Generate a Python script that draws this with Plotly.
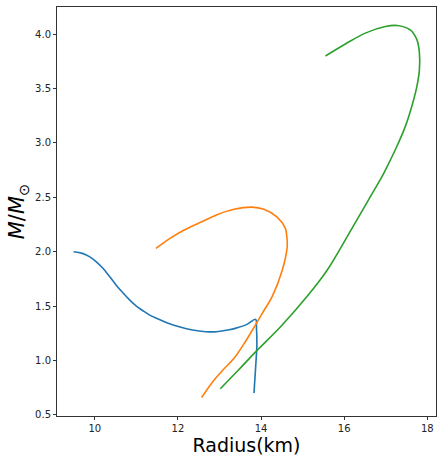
import plotly.graph_objects as go

# Mass-radius curves (radius in km, mass in solar masses)
blue_r = [9.49, 9.70, 9.87, 10.03, 10.19, 10.35, 10.51, 10.67, 10.83, 11.00, 11.15, 11.31, 11.47, 11.75,
          12.03, 12.35, 12.67, 12.93, 13.20, 13.42, 13.65, 13.87, 13.89, 13.90, 13.88, 13.86, 13.84, 13.83]
blue_m = [2.00, 1.985, 1.955, 1.91, 1.85, 1.775, 1.695, 1.625, 1.56, 1.50, 1.46, 1.42, 1.39, 1.345,
          1.31, 1.28, 1.265, 1.265, 1.28, 1.30, 1.33, 1.378, 1.30, 1.15, 1.00, 0.88, 0.76, 0.70]

orange_r = [12.57, 12.87, 13.10, 13.35, 13.60, 13.87, 14.07, 14.27, 14.51, 14.63, 14.62, 14.58,
            14.38, 14.07, 13.78, 13.35, 12.94, 12.60, 12.15, 11.80, 11.47]
orange_m = [0.66, 0.82, 0.92, 1.02, 1.16, 1.33, 1.46, 1.59, 1.83, 2.05, 2.14, 2.22,
            2.32, 2.39, 2.41, 2.39, 2.34, 2.28, 2.20, 2.12, 2.03]

green_r = [13.02, 13.45, 13.87, 14.47, 15.11, 15.59, 16.15, 16.59, 16.91, 17.03, 17.27,
           17.47, 17.63, 17.75, 17.81, 17.81, 17.75, 17.59, 17.27, 16.99, 16.51, 16.03, 15.55]
green_m = [0.74, 0.91, 1.08, 1.31, 1.59, 1.83, 2.19, 2.48, 2.69, 2.78, 2.97,
           3.15, 3.34, 3.52, 3.67, 3.83, 3.95, 4.04, 4.08, 4.07, 4.01, 3.91, 3.80]

x_ticks = [10, 12, 14, 16, 18]
y_ticks = [0.5, 1.0, 1.5, 2.0, 2.5, 3.0, 3.5, 4.0]

fig = go.Figure()
for r, m, c in [(blue_r, blue_m, "#1f77b4"), (orange_r, orange_m, "#ff7f0e"), (green_r, green_m, "#2ca02c")]:
    fig.add_trace(go.Scatter(x=r, y=m, mode="lines", line=dict(color=c, width=1.6, shape="spline", smoothing=1.0),
                             showlegend=False, hoverinfo="skip"))

axis_common = dict(showline=True, linecolor="#333333", linewidth=1, mirror=True, ticks="outside",
                   ticklen=3, tickcolor="#333333", showgrid=False, zeroline=False,
                   tickfont=dict(family="DejaVu Sans", size=10, color="#222222"))

fig.update_layout(
    width=437, height=456,
    margin=dict(l=57, r=1, t=7, b=40),
    paper_bgcolor="white", plot_bgcolor="white",
    xaxis=dict(range=[9.09, 18.21], tickvals=x_ticks, ticktext=[str(v) for v in x_ticks], automargin=False,
               title=dict(text="Radius(km)", font=dict(family="DejaVu Sans", size=19, color="black"), standoff=7),
               **axis_common),
    yaxis=dict(range=[0.49, 4.25], tickvals=y_ticks, ticktext=[f"{v:.1f}" for v in y_ticks], automargin=False,
               title=dict(text="<i>M</i>/<i>M</i><sub>⊙</sub>", font=dict(family="DejaVu Sans", size=21, color="black"), standoff=4),
               **axis_common),
)

fig.write_html("out.html")
